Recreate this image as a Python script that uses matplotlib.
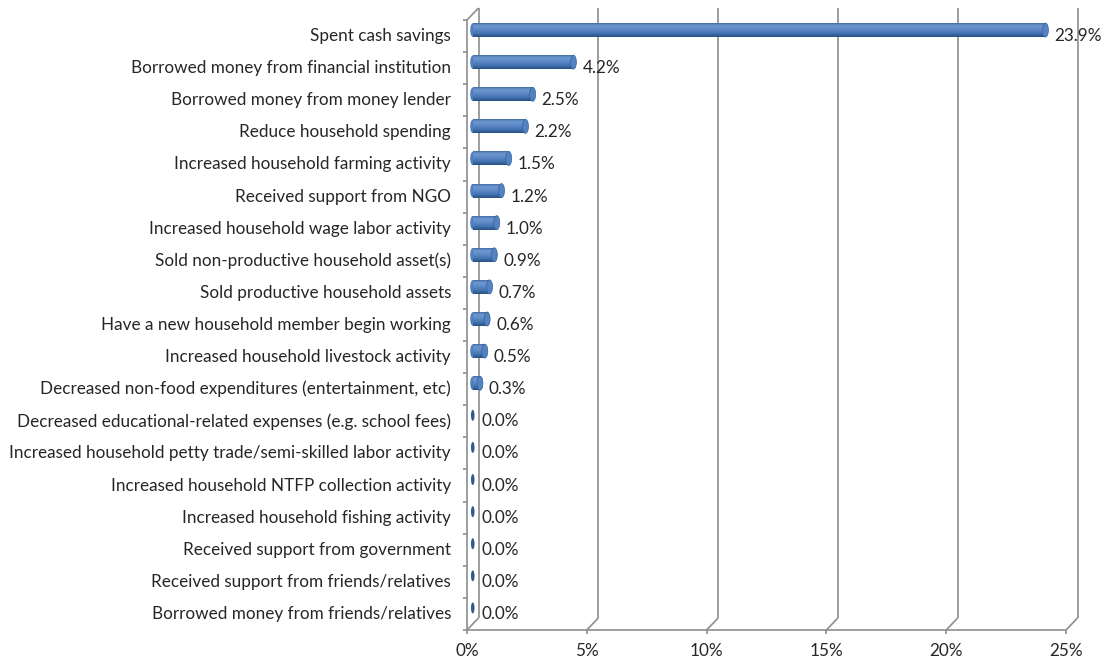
import numpy as np
import matplotlib
matplotlib.use("Agg")
import matplotlib.pyplot as plt
from matplotlib.patches import Ellipse
from matplotlib.colors import LinearSegmentedColormap

# Coping strategies, listed top to bottom
categories = [
    "Spent cash savings",
    "Borrowed money from financial institution",
    "Borrowed money from money lender",
    "Reduce household spending",
    "Increased household farming activity",
    "Received support from NGO",
    "Increased household wage labor activity",
    "Sold non-productive household asset(s)",
    "Sold productive household assets",
    "Have a new household member begin working",
    "Increased household livestock activity",
    "Decreased non-food expenditures (entertainment, etc)",
    "Decreased educational-related expenses (e.g. school fees)",
    "Increased household petty trade/semi-skilled labor activity",
    "Increased household NTFP collection activity",
    "Increased household fishing activity",
    "Received support from government",
    "Received support from friends/relatives",
    "Borrowed money from friends/relatives",
]
values = [23.9, 4.2, 2.5, 2.2, 1.5, 1.2, 1.0, 0.9, 0.7, 0.6, 0.5, 0.3,
          0.0, 0.0, 0.0, 0.0, 0.0, 0.0, 0.0]
xticks = [0, 5, 10, 15, 20, 25]
xtick_labels = ["0%", "5%", "10%", "15%", "20%", "25%"]

FONT = "Lato"
FSIZE = 12.3
TEXT_COLOR = "#262626"
LINE_COLOR = "#8e8e8e"

W, H = 1104, 664
fig = plt.figure(figsize=(W / 100, H / 100), dpi=100)
fig.patch.set_facecolor("white")

# front plane of the 3-D box, in pixels
x0_px, x1_px = 467, 1066
y_top_px, y_bot_px = 20, 630
ax = fig.add_axes([x0_px / W, 1 - y_bot_px / H,
                   (x1_px - x0_px) / W, (y_bot_px - y_top_px) / H])
n = len(categories)
xmax = xticks[-1]
ax.set_xlim(0, xmax)
ax.set_ylim(n - 0.5, -0.5)
ax.axis("off")

px_x = (x1_px - x0_px) / xmax
px_y = (y_bot_px - y_top_px) / n


def dxp(p):
    return p / px_x


def dyp(p):
    return p / px_y


# depth offsets (back wall and the middle plane where bars sit)
bdx, bdy = dxp(11.5), -dyp(12)
mdx, mdy = bdx / 2, bdy / 2

line_kw = dict(color=LINE_COLOR, lw=1.2, clip_on=False, solid_capstyle="butt")

# back-wall gridlines
for t in xticks:
    ax.plot([t + bdx, t + bdx], [-0.5 + bdy, n - 0.5 + bdy], **line_kw)
# floor gridlines (depth diagonals) and tick marks
for t in xticks:
    ax.plot([t, t + bdx], [n - 0.5, n - 0.5 + bdy], **line_kw)
    ax.plot([t, t], [n - 0.5, n - 0.5 + dyp(4)], **line_kw)
# front edges of floor and side wall
ax.plot([0, xmax], [n - 0.5, n - 0.5], **line_kw)
ax.plot([0, 0], [-0.5, n - 0.5], **line_kw)
ax.plot([0, bdx], [-0.5, -0.5 + bdy], **line_kw)
for k in range(n + 1):
    ax.plot([-dxp(4), 0], [k - 0.5, k - 0.5], **line_kw)

# cylinder shading
shade = LinearSegmentedColormap.from_list(
    "cyl", [(0.0, "#3e69a3"), (0.15, "#6a95cf"), (0.35, "#6791cc"),
            (0.7, "#4677b7"), (1.0, "#2a4f82")])
grad = np.linspace(0, 1, 64).reshape(-1, 1)
bar_h = dyp(14)

for i, v in enumerate(values):
    yc = i + mdy
    if v > 0:
        ax.add_patch(Ellipse((mdx, yc), dxp(5), bar_h * 0.96,
                             facecolor="#4e7ebe", edgecolor="none", zorder=3))
        ax.imshow(grad, cmap=shade, aspect="auto", interpolation="bilinear",
                  extent=(mdx, mdx + v, yc + bar_h / 2, yc - bar_h / 2),
                  zorder=4)
        ax.add_patch(Ellipse((mdx + v, yc), dxp(6), bar_h,
                             facecolor="#5282c1", edgecolor="#38629a",
                             lw=0.5, zorder=5))
    else:
        ax.add_patch(Ellipse((mdx, yc), dxp(3.5), dyp(11),
                             facecolor="#2f5a91", edgecolor="none", zorder=5))
    ax.annotate(f"{v:.1f}%", (mdx + v, i), xytext=(9, 0),
                textcoords="offset pixels", ha="left", va="center",
                fontsize=FSIZE, family=FONT, color=TEXT_COLOR, zorder=6)

ax.set_xlim(0, xmax)
ax.set_ylim(n - 0.5, -0.5)

# category labels
for i, c in enumerate(categories):
    ax.text(-dxp(16), i, c, ha="right", va="center", fontsize=FSIZE,
            family=FONT, color=TEXT_COLOR)

# value axis labels
for t, lab in zip(xticks, xtick_labels):
    ax.text(t, n - 0.5 + dyp(21), lab, ha="center", va="center",
            fontsize=FSIZE, family=FONT, color=TEXT_COLOR)

fig.savefig("out.png", dpi=100, facecolor="white")
